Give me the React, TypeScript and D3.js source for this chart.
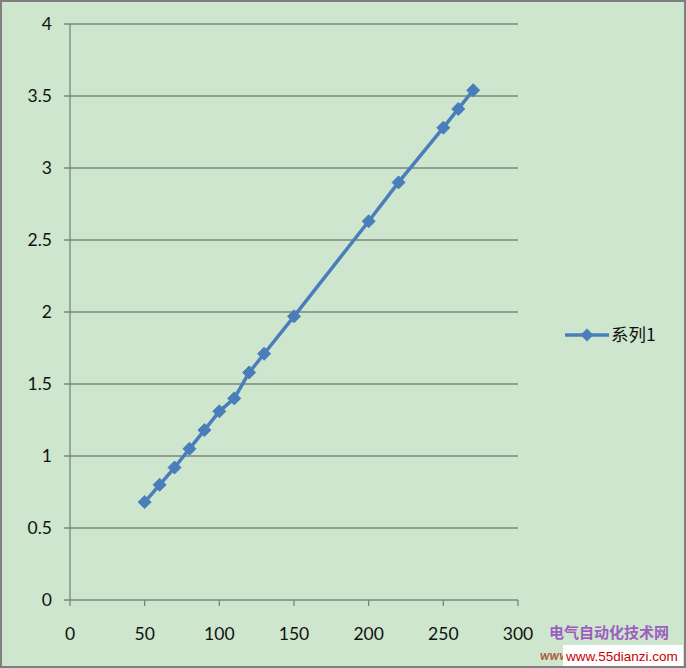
import React from "react";
import * as d3 from "d3";

const xValues = [50, 60, 70, 80, 90, 100, 110, 120, 130, 150, 200, 220, 250, 260, 270];
const yValues = [0.68, 0.8, 0.92, 1.05, 1.18, 1.31, 1.4, 1.58, 1.71, 1.97, 2.63, 2.9, 3.28, 3.41, 3.54];
const xTicks = [0, 50, 100, 150, 200, 250, 300];
const yTicks = [0, 0.5, 1, 1.5, 2, 2.5, 3, 3.5, 4];
const seriesName = "系列1";

export default function App() {
  const W = 686, H = 668;
  const x = d3.scaleLinear().domain([0, 300]).range([70, 518]);
  const y = d3.scaleLinear().domain([0, 4]).range([600, 24]);
  const pts = xValues.map((v, i) => [x(v), y(yValues[i])] as [number, number]);
  const line = d3.line()(pts) || "";
  const font = "Lato, 'Noto Sans', sans-serif";
  const blue = "#4a7ebb";
  const diamond = (cx: number, cy: number, r = 6.5) =>
    `M${cx},${cy - r}L${cx + r},${cy}L${cx},${cy + r}L${cx - r},${cy}Z`;
  return (
    <svg width={W} height={H} style={{ position: "absolute", left: 0, top: 0 }} fontFamily={font}>
      <rect x={1} y={1} width={W - 2} height={H - 2} fill="#cde6cd" stroke="#7f7f7f" strokeWidth={2} />
      {yTicks.map((t) => (
        <g key={"y" + t}>
          <line x1={64} x2={518} y1={y(t)} y2={y(t)} stroke="#788878" strokeWidth={1.3} />
          <text x={52} y={y(t)} dy="0.35em" textAnchor="end" fontSize={17.5} fill="#111">{t}</text>
        </g>
      ))}
      <line x1={70} x2={70} y1={24} y2={600} stroke="#788878" strokeWidth={1.3} />
      {xTicks.map((t) => (
        <g key={"x" + t}>
          <line x1={x(t)} x2={x(t)} y1={600} y2={606} stroke="#788878" strokeWidth={1.3} />
          <text x={x(t)} y={634} dy="0.35em" textAnchor="middle" fontSize={17.5} fill="#111">{t}</text>
        </g>
      ))}
      <path d={line} fill="none" stroke={blue} strokeWidth={3.5} strokeLinejoin="round" />
      {pts.map(([cx, cy], i) => (
        <path key={i} d={diamond(cx, cy)} fill={blue} stroke={blue} strokeWidth={1} />
      ))}
      <line x1={565} x2={609} y1={335} y2={335} stroke={blue} strokeWidth={3.5} />
      <path d={diamond(587, 335)} fill={blue} />
      <text x={611} y={335} dy="0.35em" fontSize={17.5} fill="#111" fontFamily="'Noto Sans CJK SC', sans-serif">{seriesName}</text>
      <text x={549} y={633} dy="0.35em" fontSize={15} fontWeight="bold" fill="#9b5fc0" fontFamily="'Noto Sans CJK SC', sans-serif">电气自动化技术网</text>
      <text x={540} y={655} dy="0.35em" fontSize={13} fontWeight="bold" fontStyle="italic" fill="#b05a40">www</text>
      <rect x={563} y={645} width={120} height={21} fill="#ffffff" />
      <text x={566} y={656} dy="0.35em" fontSize={13.5} fill="#cc0000" fontFamily="Arial, 'Liberation Sans', sans-serif">www.55dianzi.com</text>
    </svg>
  );
}
